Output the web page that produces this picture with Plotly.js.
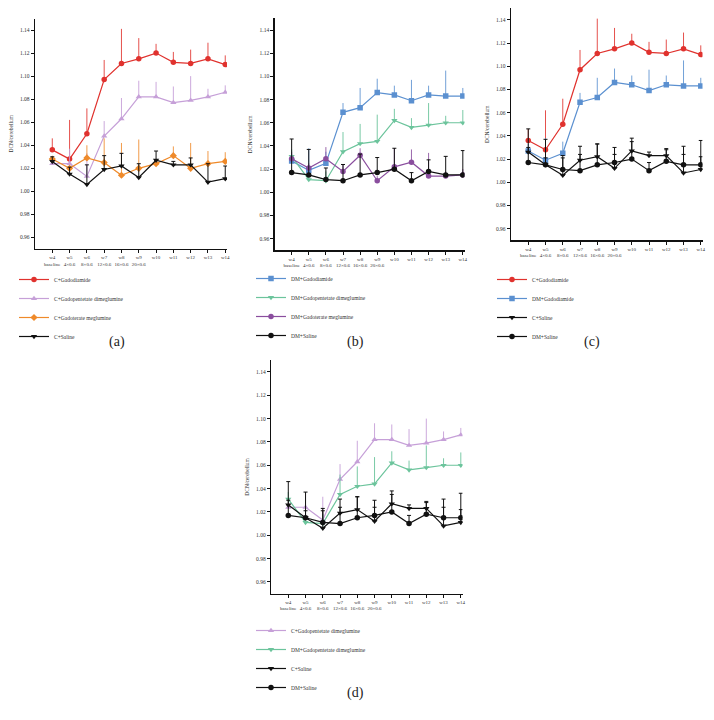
<!DOCTYPE html>
<html>
<head>
<meta charset="utf-8">
<script src="https://cdn.plot.ly/plotly-3.0.1.min.js"></script>
<style>html,body{margin:0;padding:0;background:#fff;}#chart{width:714px;height:720px;}</style>
</head>
<body>
<div id="chart"></div>
<script>
// ---- data ----
const weeks = [0,1,2,3,4,5,6,7,8,9,10];
const weekLabels = ["w4<br>baseline","w5<br>4×0.6","w6<br>8×0.6","w7<br>12×0.6","w8<br>16×0.6","w9<br>20×0.6","w10","w11","w12","w13","w14"];
const yTicks = [0.96,0.98,1.00,1.02,1.04,1.06,1.08,1.10,1.12,1.14];

const cGadodiamide      = [1.036,1.028,1.050,1.097,1.111,1.115,1.120,1.112,1.111,1.115,1.110];
const cGadodiamideErr   = [0.010,0.034,0.022,0.017,0.030,0.018,0.008,0.009,0.012,0.014,0.008];
const cGadopentetate    = [1.024,1.024,1.013,1.048,1.063,1.082,1.082,1.077,1.079,1.082,1.086];
const cGadopentetateErr = [0.003,0.013,0.020,0.013,0.018,0.014,0.013,0.014,0.021,0.007,0.006];
const cGadoterate       = [1.028,1.020,1.029,1.025,1.014,1.020,1.024,1.031,1.020,1.024,1.026];
const cGadoterateErr    = [0.002,0.002,0.011,0.021,0.028,0.025,0.004,0.008,0.022,0.011,0.008];
const cSaline           = [1.026,1.015,1.006,1.019,1.022,1.012,1.027,1.023,1.023,1.008,1.011];
const cSalineErr        = [0.004,0.006,0.017,0.012,0.011,0.012,0.008,0.003,0.006,0.016,0.011];
const dmGadodiamide     = [1.027,1.019,1.025,1.069,1.073,1.086,1.084,1.079,1.084,1.083,1.083];
const dmGadodiamideErr  = [0.006,0.019,0.010,0.008,0.017,0.012,0.008,0.018,0.008,0.022,0.007];
const dmGadopentetate   = [1.031,1.011,1.010,1.035,1.042,1.044,1.062,1.056,1.058,1.060,1.060];
const dmGadopentetateErr= [0.006,0.004,0.008,0.017,0.017,0.023,0.010,0.008,0.019,0.006,0.011];
const dmGadoterate      = [1.029,1.021,1.029,1.018,1.032,1.010,1.022,1.026,1.014,1.014,1.015];
const dmGadoterateErr   = [0.006,0.004,0.010,0.006,0.006,0.004,0.016,0.011,0.020,0.004,0.005];
const dmSaline          = [1.017,1.015,1.011,1.010,1.015,1.017,1.020,1.010,1.018,1.015,1.015];
const dmSalineErr       = [0.029,0.022,0.010,0.014,0.018,0.013,0.018,0.007,0.010,0.016,0.021];

const seriesNames = {
  cGdd:"C+Gadodiamide", cGdp:"C+Gadopentetate dimeglumine", cGdt:"C+Gadoterate meglumine", cS:"C+Saline",
  dmGdd:"DM+Gadodiamide", dmGdp:"DM+Gadopentetate dimeglumine", dmGdt:"DM+Gadoterate meglumine", dmS:"DM+Saline"
};
const seriesData = {
  cGdd:[cGadodiamide,cGadodiamideErr], cGdp:[cGadopentetate,cGadopentetateErr],
  cGdt:[cGadoterate,cGadoterateErr], cS:[cSaline,cSalineErr],
  dmGdd:[dmGadodiamide,dmGadodiamideErr], dmGdp:[dmGadopentetate,dmGadopentetateErr],
  dmGdt:[dmGadoterate,dmGadoterateErr], dmS:[dmSaline,dmSalineErr]
};
const panelSeries = [
  ["cGdd","cGdp","cGdt","cS"],
  ["dmGdd","dmGdp","dmGdt","dmS"],
  ["cGdd","dmGdd","cS","dmS"],
  ["cGdp","dmGdp","cS","dmS"]
];
const panelCaptions = ["(a)","(b)","(c)","(d)"];

// ---- styles ----
const styles = {
  cGdd:{color:"#e0322e", symbol:"circle", ecol:"rgba(224,50,46,0.85)"},
  cGdp:{color:"#c6a0d8", symbol:"triangle-up", ecol:"rgba(198,160,216,0.9)"},
  cGdt:{color:"#ef8a2a", symbol:"diamond", ecol:"rgba(239,138,42,0.85)"},
  cS:{color:"#111111", symbol:"triangle-down", ecol:"#111111"},
  dmGdd:{color:"#5b90d0", symbol:"square", ecol:"rgba(91,144,208,0.85)"},
  dmGdp:{color:"#6cc49c", symbol:"triangle-down", ecol:"rgba(108,196,156,0.9)"},
  dmGdt:{color:"#8a4e9e", symbol:"circle", ecol:"rgba(138,78,158,0.85)"},
  dmS:{color:"#111111", symbol:"circle", ecol:"#111111"}
};
const FONT = "Liberation Serif, DejaVu Serif, serif";
const xDomains = [[0.0490,0.3179],[0.3845,0.6506],[0.7157,0.9839],[0.3796,0.6478]];
const yDomains = [[0.6542,0.9743],[0.6524,0.9744],[0.6663,0.9886],[0.1756,0.4996]];
const legendPos = [[14,265],[251,264],[492,265],[251,616]];
const captionPos = [[117,342],[355,342],[592,342],[355,693]];

const traces = [];
panelSeries.forEach((keys, p) => {
  const ax = p === 0 ? "" : String(p+1);
  keys.forEach(k => {
    const st = styles[k];
    const [vals, err] = seriesData[k];
    const black = st.color === "#111111";
    traces.push({
      type:"scatter", mode:"lines+markers",
      x: weeks, y: vals, name: seriesNames[k],
      xaxis:"x"+ax, yaxis:"y"+ax, legend: p===0 ? "legend" : "legend"+(p+1),
      line:{color:st.color, width:1.2},
      marker:{color:st.color, symbol:st.symbol, size:5.5},
      error_y:{type:"data", symmetric:false, array: err, arrayminus: err.map(()=>0),
               color: st.ecol, thickness:1, width: black ? 2 : 0}
    });
  });
});

const layout = {
  width:714, height:720, margin:{l:0,r:0,t:0,b:0},
  paper_bgcolor:"#fff", plot_bgcolor:"#fff",
  font:{family:FONT, size:5.5, color:"#333"},
  annotations: [], showlegend:true
};
for (let p=0; p<4; p++) {
  const ax = p === 0 ? "" : String(p+1);
  layout["xaxis"+ax] = {
    domain: xDomains[p], range:[-1,10.1], anchor:"y"+ax,
    tickmode:"array", tickvals: weeks, ticktext: weekLabels, tickangle:0,
    showline:true, linecolor:"#111", linewidth:1.3, ticks:"outside", ticklen:3, tickwidth:1, tickcolor:"#111",
    showgrid:false, zeroline:false, tickfont:{family:FONT, size:5, color:"#333"}, fixedrange:true
  };
  layout["yaxis"+ax] = {
    domain: yDomains[p], range:[0.95,1.15], anchor:"x"+ax,
    tickmode:"array", tickvals: yTicks, ticktext: yTicks.map(v=>v.toFixed(2)),
    showline:true, linecolor:"#111", linewidth:1.3, ticks:"outside", ticklen:3, tickwidth:1, tickcolor:"#111",
    showgrid:false, zeroline:false, tickfont:{family:FONT, size:5.5, color:"#333"},
    title:{text:"DCN/cerebellum", font:{family:FONT, size:5.5, color:"#333"}, standoff:6}, fixedrange:true
  };
  const lg = {
    x: legendPos[p][0]/714, y: 1-legendPos[p][1]/720, xanchor:"left", yanchor:"top",
    bgcolor:"rgba(0,0,0,0)", borderwidth:0, font:{family:FONT, size:5.5, color:"#333"},
    itemwidth:30, tracegroupgap:0
  };
  layout[p===0 ? "legend" : "legend"+(p+1)] = lg;
  layout.annotations.push({
    text: panelCaptions[p], xref:"paper", yref:"paper",
    x: captionPos[p][0]/714, y: 1-captionPos[p][1]/720, xanchor:"center", yanchor:"middle",
    showarrow:false, font:{family:FONT, size:14, color:"#222"}
  });
}

Plotly.newPlot("chart", traces, layout, {displayModeBar:false, staticPlot:true});
</script>
</body>
</html>
